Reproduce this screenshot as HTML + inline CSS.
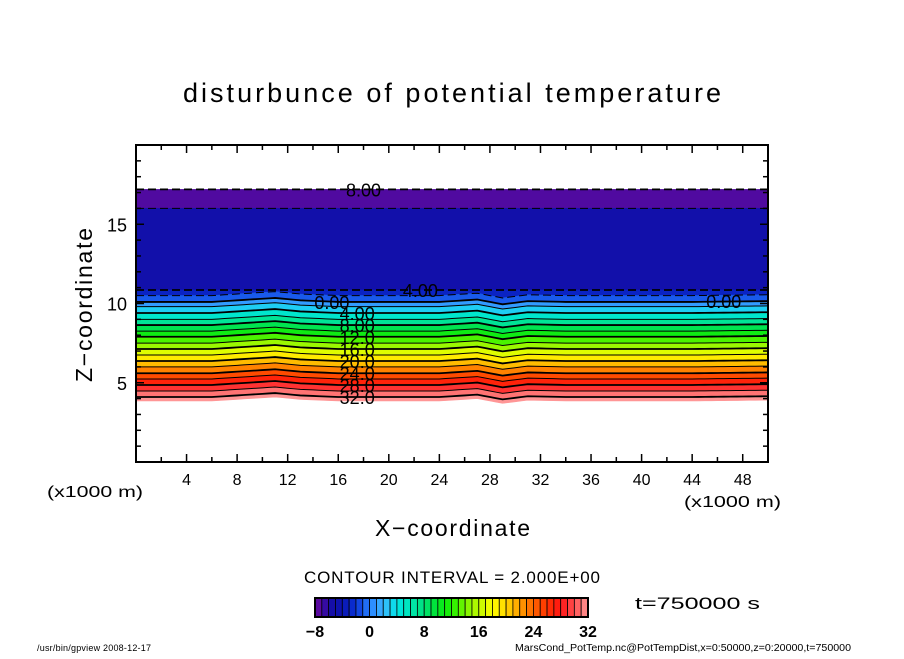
<!DOCTYPE html>
<html><head><meta charset="utf-8"><style>
html,body{margin:0;padding:0;background:#fff;}
svg text{font-family:"Liberation Sans",sans-serif;fill:#000;}
</style></head><body>
<svg id="chart" width="904" height="654" viewBox="0 0 904 654" xmlns="http://www.w3.org/2000/svg">
<text x="183" y="102" font-size="27" textLength="538" lengthAdjust="spacing">disturbunce of potential temperature</text>
<g id="plot"></g>
<g id="axes"></g>
<text transform="translate(92,382) rotate(-90)" font-size="23" textLength="154" lengthAdjust="spacing">Z−coordinate</text>
<text x="375" y="536" font-size="23" textLength="155" lengthAdjust="spacing">X−coordinate</text>
<text x="47" y="497" font-size="16" textLength="96" lengthAdjust="spacingAndGlyphs">(x1000 m)</text>
<text x="684" y="507" font-size="16" textLength="97" lengthAdjust="spacingAndGlyphs">(x1000 m)</text>
<text x="304" y="583" font-size="17" textLength="296" lengthAdjust="spacing">CONTOUR INTERVAL = 2.000E+00</text>
<g id="cbar"></g>
<text x="635" y="609" font-size="17" textLength="125" lengthAdjust="spacingAndGlyphs">t=750000 s</text>
<text x="37" y="651" font-size="9" textLength="114" lengthAdjust="spacing">/usr/bin/gpview   2008-12-17</text>
<text x="515" y="651" font-size="10" textLength="336" lengthAdjust="spacingAndGlyphs">MarsCond_PotTemp.nc@PotTempDist,x=0:50000,z=0:20000,t=750000</text>
</svg>
<script>
// data
const levels = [-8,-6,-4,-2,0,2,4,6,8,10,12,14,16,18,20,22,24,26,28,30,32];
const contourZ = [17.2,16.0,10.85,10.5,10.1,9.8,9.4,9.0,8.64,8.26,7.9,7.5,7.13,6.75,6.37,6.0,5.6,5.24,4.86,4.48,4.1];
const bottomZ = 3.85;
const bumpX = [0,6,9,11,13,16,24,27,29,31,34,44,50];
const bumpZ = [0,0,0.15,0.25,0.1,0,0,0.15,-0.15,0.05,0,0,0.05];
const xTicks = [4,8,12,16,20,24,28,32,36,40,44,48];
const zTicks = [5,10,15];
const cbarLabels = [-8,0,8,16,24,32];
const labeledLevels = [-8,-4,0,4,8,12,16,20,24,28,32];

const NS="http://www.w3.org/2000/svg";
const X0=136,X1=768,Y0=462,Y1=145;
const sx=x=>X0+(x/50)*(X1-X0);
const sz=z=>Y0-(z/20)*(Y0-Y1);
function mk(t,a,p){const e=document.createElementNS(NS,t);for(const k in a)e.setAttribute(k,a[k]);p.appendChild(e);return e;}
const stops=[[-8,[100,10,160]],[-7,[80,10,160]],[-6,[25,12,165]],[-4,[10,20,175]],[-2,[10,50,215]],[0,[40,130,255]],[2,[60,180,255]],[4,[0,230,230]],[6,[0,230,180]],[8,[0,225,120]],[10,[0,230,40]],[12,[30,240,0]],[14,[120,245,0]],[16,[190,250,0]],[18,[255,255,0]],[20,[255,215,0]],[22,[255,160,0]],[24,[255,100,0]],[26,[255,50,0]],[28,[255,20,20]],[30,[255,80,80]],[32,[255,150,150]]];
function col(v){for(let i=0;i<stops.length-1;i++){if(v<=stops[i+1][0]){const t=(v-stops[i][0])/(stops[i+1][0]-stops[i][0]);const a=stops[i][1],b=stops[i+1][1];return `rgb(${a.map((c,j)=>Math.round(c+(b[j]-c)*t)).join(',')})`;}}const l=stops[stops.length-1][1];return `rgb(${l.join(',')})`;}
function bump(x){for(let i=0;i<bumpX.length-1;i++){if(x<=bumpX[i+1]){const t=(x-bumpX[i])/(bumpX[i+1]-bumpX[i]);return bumpZ[i]+(bumpZ[i+1]-bumpZ[i])*t;}}return 0;}
const xs=[];for(let x=0;x<=50;x+=0.5)xs.push(x);
function lineAt(z,scale){return xs.map(x=>[sx(x),sz(z+bump(x)*scale)]);}
const plot=document.getElementById('plot');
const allZ=contourZ.concat([bottomZ]);
for(let i=0;i<allZ.length-1;i++){
  const sc=allZ[i]>10.6?0:1;
  const top=lineAt(allZ[i],sc), bot=lineAt(allZ[i+1],allZ[i+1]>10.6?0:1).reverse();
  const v=i<levels.length-1?(levels[i]+levels[i+1])/2:levels[i]+1;
  const p=mk('polygon',{points:top.concat(bot).map(q=>q.join(',')).join(' '),fill:col(v),stroke:col(v),'stroke-width':0.6},plot);
  
  
}
levels.forEach((lv,i)=>{
  const pts=lineAt(contourZ[i],contourZ[i]>10.6?0:1);
  const a={points:pts.map(q=>q.join(',')).join(' '),fill:'none',stroke:'#000','stroke-width':(lv%4===0)?1.8:1};
  if(lv<0)a['stroke-dasharray']='8,4';
  const l=mk('polyline',a,plot);
  
  
});
labeledLevels.forEach(lv=>{
  const i=levels.indexOf(lv);
  let x=17.5;
  if(lv===-8)x=18; if(lv===-4)x=22.5; if(lv===0)x=15.5;
  const t=mk('text',{x:sx(x),y:sz(contourZ[i])+7,'font-size':18,'text-anchor':'middle'},plot);
  t.textContent=lv>=12?lv.toFixed(1):Math.abs(lv).toFixed(2);
  
  
});
{const t=mk('text',{x:sx(46.5),y:sz(contourZ[4])+6,'font-size':18,'text-anchor':'middle'},plot);t.textContent='0.00';

}
const ax=document.getElementById('axes');
mk('rect',{x:X0,y:Y1,width:X1-X0,height:Y0-Y1,fill:'none',stroke:'#000','stroke-width':2},ax);
for(let x=2;x<50;x+=2){const L=x%4===0?8:5;mk('line',{x1:sx(x),x2:sx(x),y1:Y0,y2:Y0-L,stroke:'#000','stroke-width':1.5},ax);mk('line',{x1:sx(x),x2:sx(x),y1:Y1,y2:Y1+L,stroke:'#000','stroke-width':1.5},ax);}
for(let z=1;z<20;z++){const L=z%5===0?8:5;mk('line',{x1:X0,x2:X0+L,y1:sz(z),y2:sz(z),stroke:'#000','stroke-width':1.5},ax);mk('line',{x1:X1,x2:X1-L,y1:sz(z),y2:sz(z),stroke:'#000','stroke-width':1.5},ax);}
xTicks.forEach(v=>{const t=mk('text',{x:sx(v),y:485,'font-size':16,'text-anchor':'middle'},ax);t.textContent=v;

});
zTicks.forEach(v=>{const t=mk('text',{x:127,y:sz(v)+7,'font-size':18,'text-anchor':'end'},ax);t.textContent=v;

});
const cb=document.getElementById('cbar');
const CX0=315,CX1=588,CY=598,CH=19,n=40;
for(let k=0;k<n;k++){const v=-8+k+0.5;const w=(CX1-CX0)/n;
mk('rect',{x:CX0+k*w,y:CY,width:w,height:CH,fill:col(v),stroke:'#000','stroke-width':0.8},cb);}
mk('rect',{x:CX0,y:CY,width:CX1-CX0,height:CH,fill:'none',stroke:'#000','stroke-width':2},cb);
cbarLabels.forEach(v=>{const t=mk('text',{x:CX0+(v+8)/40*(CX1-CX0),y:637,'font-size':16,'font-weight':'bold','text-anchor':'middle'},cb);t.textContent=v<0?'−'+Math.abs(v):v;

});
</script>
</body></html>
